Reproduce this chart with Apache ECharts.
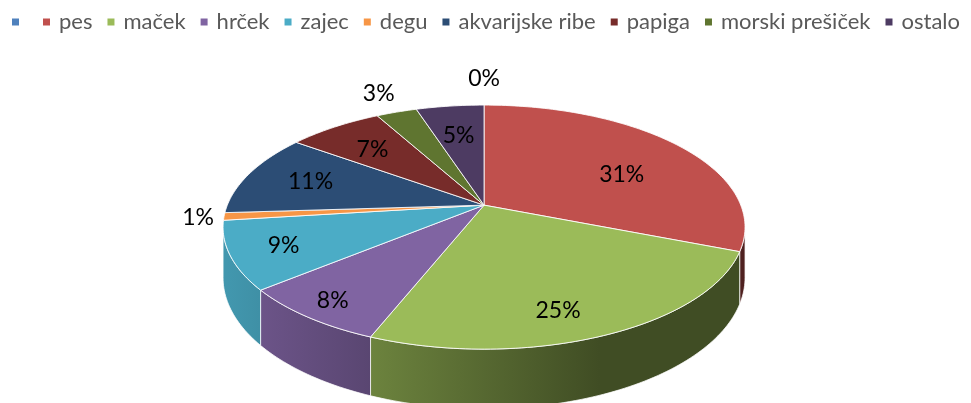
<!DOCTYPE html>
<html>
<head>
<meta charset="utf-8">
<script src="https://cdn.jsdelivr.net/npm/echarts@6/dist/echarts.min.js"></script>
<style>
html, body { margin: 0; padding: 0; background: #fff; }
#chart { width: 971px; height: 403px; }
</style>
</head>
<body>
<div id="chart"></div>
<script>
// first category has no name in the source sheet
var categories = ['\u200b', 'pes', 'maček', 'hrček', 'zajec', 'degu', 'akvarijske ribe', 'papiga', 'morski prešiček', 'ostalo'];
var shares = [0, 31, 25, 8, 9, 1, 11, 7, 3, 5];
var colors = ['#4F81BD', '#C0504D', '#9BBB59', '#8064A2', '#4BACC6', '#F79646', '#2C4D75', '#772C2A', '#5F7530', '#4D3B62'];

var total = shares.reduce(function (s, v) { return s + v; }, 0);
var starts = [];
var acc = 0;
shares.forEach(function (v) { starts.push(acc / total); acc += v; });

var myChart = echarts.init(document.getElementById('chart'));

// tilted pie with a bit of perspective (like excel 3d pie)
var K = -0.18;
function shade(hex, f) {
    var n = parseInt(hex.slice(1), 16);
    var r = Math.round(((n >> 16) & 255) * f), g = Math.round(((n >> 8) & 255) * f), b = Math.round((n & 255) * f);
    return 'rgb(' + r + ',' + g + ',' + b + ')';
}
function centroid(pts) {
    var A = 0, x = 0, y = 0;
    for (var i = 0; i < pts.length; i++) {
        var p = pts[i], q = pts[(i + 1) % pts.length];
        var c = p[0] * q[1] - q[0] * p[1];
        A += c; x += (p[0] + q[0]) * c; y += (p[1] + q[1]) * c;
    }
    if (!A) return [0, 0, 0];
    return [x / (3 * A), y / (3 * A), Math.abs(A / 2)];
}

function renderSlice(params, api) {
    var i = params.seriesIndex;
    var W = api.getWidth(), H = api.getHeight();
    var cx = W * 0.4985, cy = H * 0.509, a = W * 0.2644, b = H * 0.293, depth = H * 0.1215;
    function proj(phi, f) {
        var u = Math.sin(phi) * f, v = -Math.cos(phi) * f, s = 1 + K * v;
        return [cx + a * u / s, cy + b * v / s, s];
    }
    var p0 = starts[i] * Math.PI * 2;
    var p1 = p0 + api.value(0) / total * Math.PI * 2;
    var children = [];
    var steps = Math.max(2, Math.ceil((p1 - p0) / 0.02));
    var parts = [];

    // side wall, only the part facing us
    var silL = Math.acos(K), silR = Math.PI * 2 - Math.acos(K);
    var w0 = Math.max(p0, silL), w1 = Math.min(p1, silR);
    if (w1 > w0) {
        var top = [], bot = [];
        var n = Math.max(2, Math.ceil((w1 - w0) / 0.02));
        for (var j = 0; j <= n; j++) {
            var p = proj(w0 + (w1 - w0) * j / n, 1);
            top.push([p[0], p[1]]);
            bot.unshift([p[0], p[1] + depth / p[2]]);
        }
        var wall = top.concat(bot);
        parts.push(centroid(wall));
        children.push({
            type: 'polygon',
            z2: 1,
            shape: { points: wall },
            style: {
                fill: new echarts.graphic.LinearGradient(cx - a, 0, cx + a * 0.45, 0, [
                    { offset: 0, color: shade(colors[i], 0.88) },
                    { offset: 1, color: shade(colors[i], 0.41) }
                ], true),
                stroke: 'rgba(255,255,255,0.75)',
                lineWidth: 1
            }
        });
    }

    // top face
    if (p1 > p0) {
        var pts = [[cx, cy]];
        for (var m = 0; m <= steps; m++) {
            var q = proj(p0 + (p1 - p0) * m / steps, 1);
            pts.push([q[0], q[1]]);
        }
        parts.push(centroid(pts));
        children.push({
            type: 'polygon',
            z2: 10,
            shape: { points: pts },
            style: { fill: colors[i], stroke: 'rgba(255,255,255,0.85)', lineWidth: 1 }
        });
    }

    // percent label
    var mid = (p0 + p1) / 2;
    var lp;
    if (api.value(0) < 4) {
        var e = proj(mid, 1);
        var dx = e[0] - cx, dy = e[1] - cy, d = Math.sqrt(dx * dx + dy * dy);
        lp = [e[0] + dx / d * 26, e[1] + dy / d * 26];
    } else {
        var sx = 0, sy = 0, sa = 0;
        parts.forEach(function (c) { sx += c[0] * c[2]; sy += c[1] * c[2]; sa += c[2]; });
        lp = [cx + (sx / sa - cx) * 1.12, sy / sa - 4];
    }
    children.push({
        type: 'text',
        z2: 20,
        x: lp[0],
        y: lp[1],
        style: {
            text: api.value(0) + '%',
            fill: '#000',
            font: '23px Lato',
            align: 'center',
            verticalAlign: 'middle'
        }
    });
    return { type: 'group', children: children };
}

var series = categories.map(function (name, i) {
    return {
        name: name,
        type: 'custom',
        coordinateSystem: 'none',
        renderItem: renderSlice,
        itemStyle: { color: colors[i] },
        data: [[shares[i]]]
    };
});

var option = {
    backgroundColor: '#fff',
    animation: false,
    legend: {
        top: 11,
        left: 12,
        width: 959,
        padding: 0,
        icon: 'rect',
        itemWidth: 7,
        itemHeight: 7,
        itemGap: 15,
        textStyle: {
            color: '#595959',
            fontFamily: 'Lato',
            fontSize: 22,
            padding: [0, 0, 0, 4]
        },
        data: categories
    },
    series: series
};
myChart.setOption(option);
</script>
</body>
</html>
